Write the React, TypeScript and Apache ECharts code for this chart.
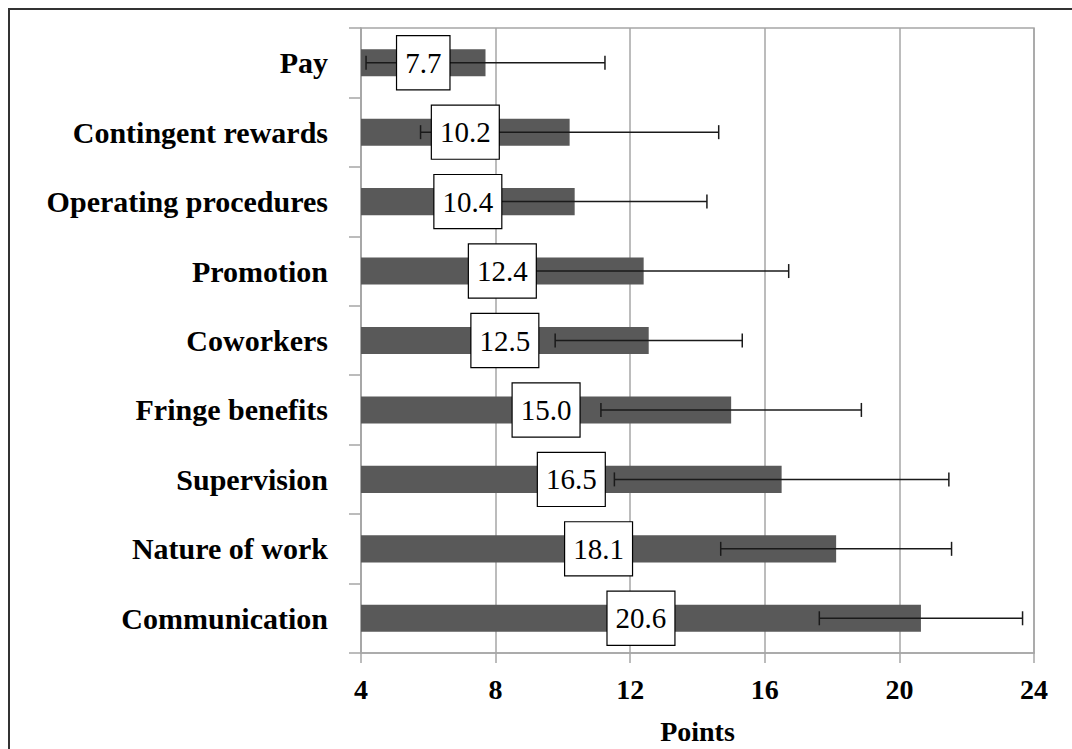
import React, { useEffect, useRef } from "react";
import * as echarts from "echarts";

const categories = [
  "Pay",
  "Contingent rewards",
  "Operating procedures",
  "Promotion",
  "Coworkers",
  "Fringe benefits",
  "Supervision",
  "Nature of work",
  "Communication",
];
const means = [7.7, 10.2, 10.4, 12.4, 12.5, 15.0, 16.5, 18.1, 20.6];
const barEnds = [7.7, 10.2, 10.35, 12.4, 12.55, 15.0, 16.5, 18.12, 20.64];
const errHalf = [3.55, 4.43, 3.93, 4.31, 2.78, 3.87, 4.97, 3.43, 3.02];
const xTicks = [4, 8, 12, 16, 20, 24];
const xName = "Points";

const FONT = "'Liberation Serif', 'Times New Roman', serif";
const AXIS_MIN = xTicks[0];
const AXIS_MAX = xTicks[xTicks.length - 1];

export default function App() {
  const ref = useRef<HTMLDivElement>(null);
  useEffect(() => {
    if (!ref.current) return;
    const chart = echarts.init(ref.current, null, { renderer: "svg" });
    const errData = barEnds.map((c, i) => [i, c - errHalf[i], c + errHalf[i]]);
    const labelData = means.map((m, i) => [i, barEnds[i], m]);
    chart.setOption({
      animation: false,
      backgroundColor: "#fff",
      grid: {
        left: 361,
        right: 38,
        top: 28,
        bottom: 96,
        show: true,
        containLabel: false,
        outerBoundsMode: "none",
        borderColor: "#a6a6a6",
        borderWidth: 1.5,
        backgroundColor: "transparent",
      },
      graphic: [
        {
          type: "rect",
          shape: { x: 9, y: 9, width: 1200, height: 900 },
          style: { fill: "none", stroke: "#333", lineWidth: 2 },
          silent: true,
        },
      ],
      xAxis: {
        type: "value",
        min: AXIS_MIN,
        max: AXIS_MAX,
        interval: 4,
        name: xName,
        nameLocation: "middle",
        nameGap: 64,
        nameTextStyle: {
          fontFamily: FONT,
          fontWeight: "bold",
          fontSize: 28,
          color: "#000",
        },
        axisLine: { show: true, lineStyle: { color: "#a6a6a6", width: 1.5 } },
        axisTick: { show: true, length: 10, lineStyle: { color: "#a6a6a6", width: 1.5 } },
        axisLabel: {
          fontFamily: FONT,
          fontWeight: "bold",
          fontSize: 28,
          color: "#000",
          margin: 22,
        },
        splitLine: { show: true, lineStyle: { color: "#a6a6a6", width: 1.5 } },
      },
      yAxis: {
        type: "category",
        data: categories,
        inverse: true,
        axisLine: { show: true, lineStyle: { color: "#a6a6a6", width: 1.5 } },
        axisTick: { show: true, length: 12, inside: false, lineStyle: { color: "#a6a6a6", width: 1.5 } },
        axisLabel: {
          fontFamily: FONT,
          fontWeight: "bold",
          fontSize: 30,
          color: "#000",
          margin: 33,
        },
        splitLine: { show: false },
      },
      series: [
        {
          type: "bar",
          data: barEnds,
          barWidth: "39%",
          itemStyle: { color: "#595959" },
          z: 2,
        },
        {
          type: "custom",
          z: 3,
          data: errData,
          encode: { x: [1, 2], y: 0 },
          renderItem: (params: any, api: any) => {
            const idx = api.value(0);
            const lo = api.coord([api.value(1), idx]);
            const hi = api.coord([api.value(2), idx]);
            const cap = 7;
            const st = { stroke: "#1a1a1a", lineWidth: 1.5 };
            return {
              type: "group",
              children: [
                { type: "line", shape: { x1: lo[0], y1: lo[1], x2: hi[0], y2: hi[1] }, style: st },
                { type: "line", shape: { x1: lo[0], y1: lo[1] - cap, x2: lo[0], y2: lo[1] + cap }, style: st },
                { type: "line", shape: { x1: hi[0], y1: hi[1] - cap, x2: hi[0], y2: hi[1] + cap }, style: st },
              ],
            };
          },
        },
        {
          type: "custom",
          z: 4,
          data: labelData,
          encode: { x: 1, y: 0 },
          renderItem: (params: any, api: any) => {
            const idx = api.value(0);
            const end = api.value(1);
            const m = api.value(2);
            const p = api.coord([(AXIS_MIN + end) / 2, idx]);
            return {
              type: "text",
              x: p[0],
              y: p[1],
              style: {
                text: Number(m).toFixed(1),
                fill: "#000",
                fontFamily: FONT,
                fontSize: 29,
                lineHeight: 31,
                align: "center",
                verticalAlign: "middle",
                backgroundColor: "#fff",
                borderColor: "#000",
                borderWidth: 1.2,
                padding: [11, 8, 11, 8],
              },
            };
          },
        },
      ],
    });
    return () => chart.dispose();
  }, []);
  return (
    <div
      ref={ref}
      style={{ position: "absolute", left: 0, top: 0, width: 1072, height: 749 }}
    />
  );
}
